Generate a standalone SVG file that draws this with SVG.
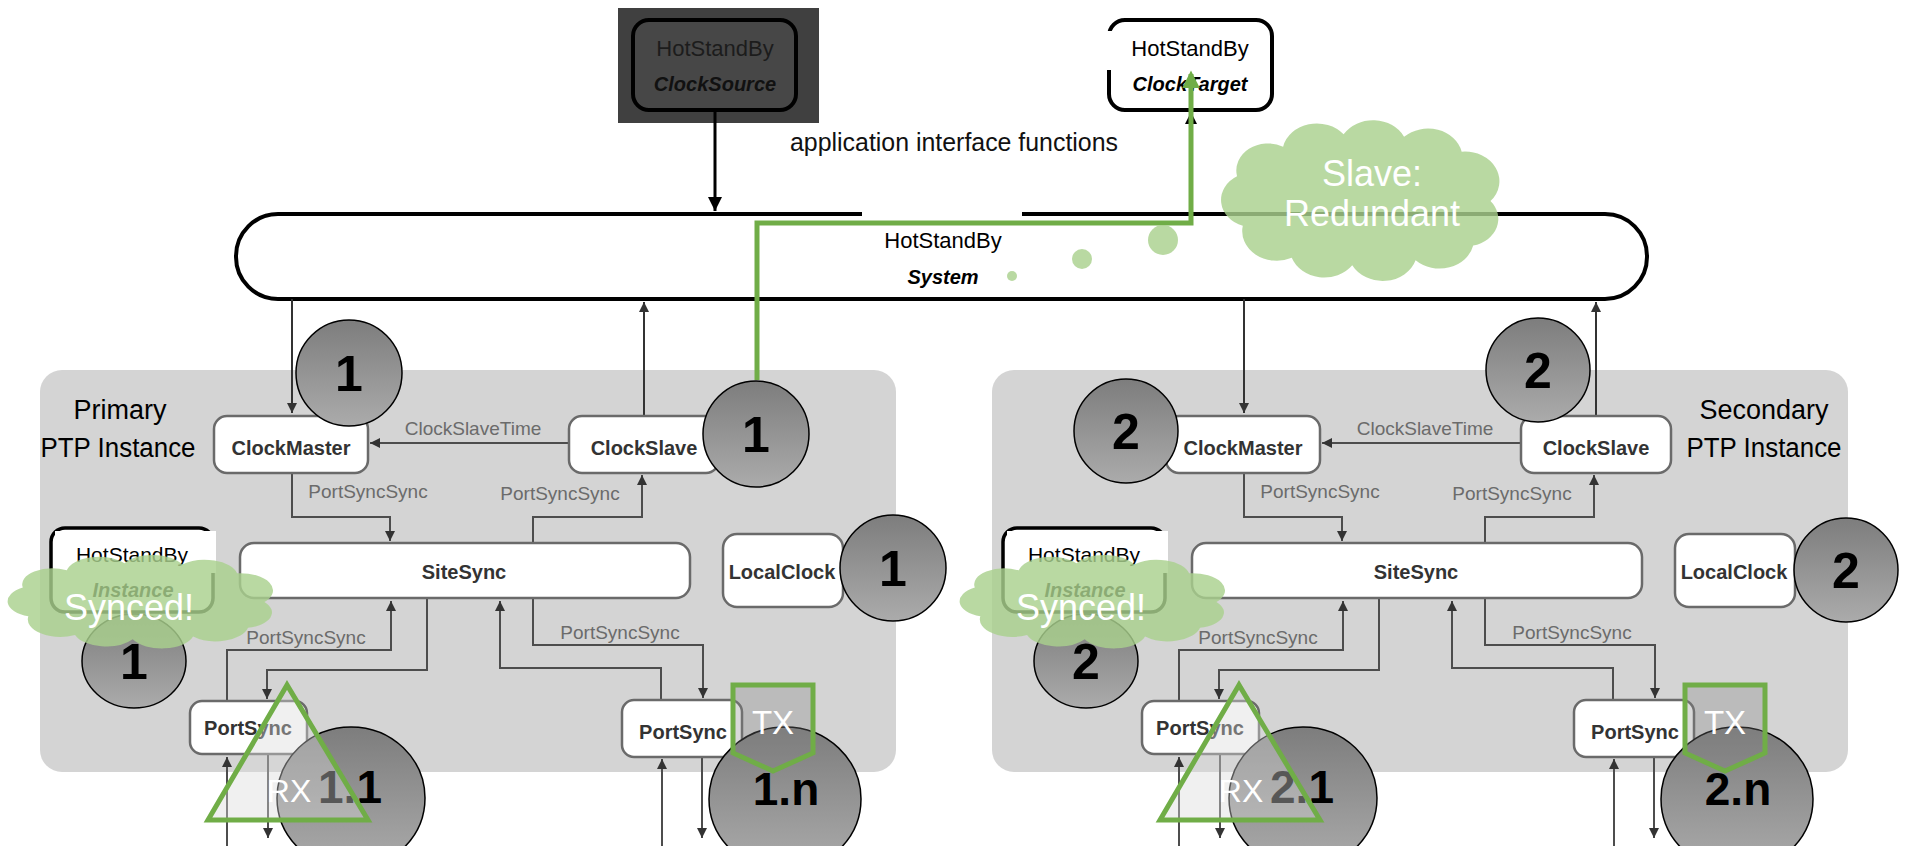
<svg xmlns="http://www.w3.org/2000/svg" width="1905" height="846" viewBox="0 0 1905 846">
<defs>
<style>
text{font-family:"Liberation Sans",Arial,sans-serif}
.panel{fill:#d4d4d4}
.box{fill:#fff;stroke:#6a6a6a;stroke-width:2.5}
.bl{font-size:20px;font-weight:bold;fill:#333;text-anchor:middle}
.lbl{font-size:19px;fill:#6b6b6b;text-anchor:middle}
.conn{fill:none;stroke:#4d4d4d;stroke-width:2;marker-end:url(#ah)}
.sys{fill:none;stroke:#333;stroke-width:2;marker-end:url(#ah)}
.circ{fill:url(#cg);stroke:#000;stroke-width:1.5}
.num{font-size:50px;font-weight:bold;fill:#000;text-anchor:middle}
.num2{font-size:46px;font-weight:bold;fill:#000;text-anchor:middle}
.hs{font-size:22px;fill:#000;text-anchor:middle}
.bi{font-size:20px;font-weight:bold;font-style:italic;fill:#000;text-anchor:middle}
.cloud{fill:#a9d18e;opacity:0.82}
.wt{fill:#fff;text-anchor:middle}
.grn{fill:none;stroke:#70ad47;stroke-width:5}
.tri{fill:#d9d9d9;fill-opacity:0.4;stroke:#70ad47;stroke-width:5}
.pent{fill:#808080;fill-opacity:0.3;stroke:#70ad47;stroke-width:5}
.ptp{font-size:27px;fill:#000;text-anchor:middle}
</style>
<linearGradient id="cg" x1="0" y1="0" x2="0" y2="1"><stop offset="0" stop-color="#7d7d7d"/><stop offset="1" stop-color="#ababab"/></linearGradient>
<marker id="ah" viewBox="0 0 10 10" refX="10" refY="5" markerWidth="10" markerHeight="10" markerUnits="userSpaceOnUse" orient="auto"><path d="M0,0L10,5L0,10z" fill="#333"/></marker>
<marker id="ahk" viewBox="0 0 10 10" refX="10" refY="5" markerWidth="14" markerHeight="14" markerUnits="userSpaceOnUse" orient="auto"><path d="M0,0L10,5L0,10z" fill="#000"/></marker>
<marker id="ahg" viewBox="0 0 10 10" refX="8" refY="5" markerWidth="18" markerHeight="18" markerUnits="userSpaceOnUse" orient="auto"><path d="M0,0L10,5L0,10z" fill="#70ad47"/></marker>
<path id="cloudp" d="M10,42 A11,11 0 0 1 8,22 A11,11 0 0 1 24,10 A12,12 0 0 1 45,5 A12,12 0 0 1 66,6 A12,12 0 0 1 86,12 A12,12 0 0 1 96,32 A11,11 0 0 1 90,50 A12,12 0 0 1 70,56 A12,12 0 0 1 48,58 A12,12 0 0 1 27,55 A12,12 0 0 1 10,42 Z"/>
</defs>
<rect width="1905" height="846" fill="#fff"/>

<!-- panels -->
<g id="primary-panel">
<rect class="panel" x="40" y="370" width="856" height="402" rx="22"/>
<text class="ptp" x="120" y="419">Primary</text>
<text class="ptp" x="118" y="457" textLength="155" lengthAdjust="spacingAndGlyphs">PTP Instance</text>
</g>
<g id="secondary-panel">
<rect class="panel" x="992" y="370" width="856" height="402" rx="22"/>
<text class="ptp" x="1764" y="419">Secondary</text>
<text class="ptp" x="1764" y="457" textLength="155" lengthAdjust="spacingAndGlyphs">PTP Instance</text>
</g>

<!-- top nodes -->
<g id="clock-source">
<rect x="618" y="8" width="201" height="115" fill="#404040"/>
<rect x="633" y="20" width="163" height="90" rx="16" fill="#474747" stroke="#000" stroke-width="4"/>
<text class="hs" x="715" y="56" style="fill:#1c1c1c">HotStandBy</text>
<text class="bi" x="715" y="91" style="fill:#111">ClockSource</text>
</g>
<g id="clock-target">
<rect x="1109" y="20" width="163" height="90" rx="16" fill="#fff" stroke="#000" stroke-width="4"/>
<rect x="1105" y="31" width="160" height="39" fill="#fff"/>
<text class="hs" x="1190" y="56">HotStandBy</text>
<text class="bi" x="1190" y="91">ClockTarget</text>
</g>
<text x="954" y="151" font-size="25" text-anchor="middle" textLength="328" lengthAdjust="spacingAndGlyphs" fill="#111">application interface functions</text>

<g id="system">
<rect x="236" y="214" width="1411" height="85" rx="42" fill="#fff" stroke="#000" stroke-width="4"/>
<rect x="862" y="209" width="160" height="9" fill="#fff"/>
<text class="hs" x="943" y="248">HotStandBy</text>
<text class="bi" x="943" y="284">System</text>
</g>

<!-- connectors -->
<g id="connectors">
<path d="M715,110 V211" fill="none" stroke="#000" stroke-width="3" marker-end="url(#ahk)"/>
<path d="M1191,112 L1185,124 L1197,124 Z" fill="#000"/>
<g id="conn-primary">
<path class="sys" d="M292,299 V413"/>
<path class="sys" d="M644,416 V302"/>
<path class="conn" d="M569,443 H370"/>
<path class="conn" d="M292,473 V517 H390 V541"/>
<path class="conn" d="M533,543 V517 H642 V475"/>
<path class="conn" d="M227,701 V650 H391 V601"/>
<path class="conn" d="M427,599 V670 H267 V699"/>
<path class="conn" d="M661,700 V668 H500 V601"/>
<path class="conn" d="M533,599 V645 H703 V698"/>
<path class="conn" d="M227,846 V757"/>
<path class="conn" d="M268,755 V838"/>
<path class="conn" d="M662,846 V759"/>
<path class="conn" d="M702,758 V838"/>
<text class="lbl" x="473" y="435">ClockSlaveTime</text>
<text class="lbl" x="368" y="498">PortSyncSync</text>
<text class="lbl" x="560" y="500">PortSyncSync</text>
<text class="lbl" x="306" y="644">PortSyncSync</text>
<text class="lbl" x="620" y="639">PortSyncSync</text>
</g>
<g id="conn-secondary" transform="translate(952,0)">
<path class="sys" d="M292,299 V413"/>
<path class="sys" d="M644,416 V302"/>
<path class="conn" d="M569,443 H370"/>
<path class="conn" d="M292,473 V517 H390 V541"/>
<path class="conn" d="M533,543 V517 H642 V475"/>
<path class="conn" d="M227,701 V650 H391 V601"/>
<path class="conn" d="M427,599 V670 H267 V699"/>
<path class="conn" d="M661,700 V668 H500 V601"/>
<path class="conn" d="M533,599 V645 H703 V698"/>
<path class="conn" d="M227,846 V757"/>
<path class="conn" d="M268,755 V838"/>
<path class="conn" d="M662,846 V759"/>
<path class="conn" d="M702,758 V838"/>
<text class="lbl" x="473" y="435">ClockSlaveTime</text>
<text class="lbl" x="368" y="498">PortSyncSync</text>
<text class="lbl" x="560" y="500">PortSyncSync</text>
<text class="lbl" x="306" y="644">PortSyncSync</text>
<text class="lbl" x="620" y="639">PortSyncSync</text>
</g>
</g>

<!-- primary nodes -->
<g id="p-clockmaster"><rect class="box" x="214" y="416" width="154" height="57" rx="13"/><text class="bl" x="291" y="455">ClockMaster</text></g>
<g id="p-clockslave"><rect class="box" x="569" y="416" width="150" height="57" rx="13"/><text class="bl" x="644" y="455">ClockSlave</text></g>
<g id="p-sitesync"><rect class="box" x="240" y="543" width="450" height="55" rx="14"/><text class="bl" x="464" y="579">SiteSync</text></g>
<g id="p-localclock"><rect class="box" x="723" y="534" width="120" height="73" rx="14"/><text class="bl" x="782" y="579">LocalClock</text></g>
<g id="p-portsync1"><rect class="box" x="190" y="701" width="117" height="53" rx="12"/><text class="bl" x="248" y="735">PortSync</text></g>
<g id="p-portsyncn"><rect class="box" x="622" y="700" width="120" height="57" rx="12"/><text class="bl" x="683" y="739">PortSync</text></g>
<g id="p-instance">
<rect x="51" y="528" width="162" height="84" rx="14" fill="#fff" stroke="#000" stroke-width="3.5"/>
<rect x="55" y="531" width="161" height="42" fill="#fff"/>
<text x="132" y="562" font-size="21" text-anchor="middle">HotStandBy</text>
<text class="bi" x="133" y="597">Instance</text>
</g>

<!-- secondary nodes -->
<g id="s-clockmaster" transform="translate(952,0)"><rect class="box" x="214" y="416" width="154" height="57" rx="13"/><text class="bl" x="291" y="455">ClockMaster</text></g>
<g id="s-clockslave" transform="translate(952,0)"><rect class="box" x="569" y="416" width="150" height="57" rx="13"/><text class="bl" x="644" y="455">ClockSlave</text></g>
<g id="s-sitesync" transform="translate(952,0)"><rect class="box" x="240" y="543" width="450" height="55" rx="14"/><text class="bl" x="464" y="579">SiteSync</text></g>
<g id="s-localclock" transform="translate(952,0)"><rect class="box" x="723" y="534" width="120" height="73" rx="14"/><text class="bl" x="782" y="579">LocalClock</text></g>
<g id="s-portsync1" transform="translate(952,0)"><rect class="box" x="190" y="701" width="117" height="53" rx="12"/><text class="bl" x="248" y="735">PortSync</text></g>
<g id="s-portsyncn" transform="translate(952,0)"><rect class="box" x="622" y="700" width="120" height="57" rx="12"/><text class="bl" x="683" y="739">PortSync</text></g>
<g id="s-instance" transform="translate(952,0)">
<rect x="51" y="528" width="162" height="84" rx="14" fill="#fff" stroke="#000" stroke-width="3.5"/>
<rect x="55" y="531" width="161" height="42" fill="#fff"/>
<text x="132" y="562" font-size="21" text-anchor="middle">HotStandBy</text>
<text class="bi" x="133" y="597">Instance</text>
</g>

<!-- number badges primary -->
<g id="badge-p-cm"><circle class="circ" cx="349" cy="373" r="53"/><text class="num" x="349" y="391">1</text></g>
<g id="badge-p-cs"><circle class="circ" cx="756" cy="434" r="53"/><text class="num" x="756" y="452">1</text></g>
<g id="badge-p-lc"><circle class="circ" cx="893" cy="568" r="53"/><text class="num" x="893" y="586">1</text></g>
<g id="badge-p-inst"><ellipse class="circ" cx="134" cy="661" rx="52" ry="47"/><text class="num" x="134" y="679">1</text></g>
<g id="badge-p-11"><ellipse class="circ" cx="351" cy="798" rx="74" ry="71"/><text class="num2" x="350" y="803">1.1</text></g>
<g id="badge-p-1n"><ellipse class="circ" cx="785" cy="799" rx="76" ry="72"/><text class="num2" x="786" y="805">1.n</text></g>

<!-- number badges secondary -->
<g id="badge-s-cm"><circle class="circ" cx="1126" cy="431" r="52"/><text class="num" x="1126" y="449">2</text></g>
<g id="badge-s-cs"><circle class="circ" cx="1538" cy="370" r="52"/><text class="num" x="1538" y="388">2</text></g>
<g id="badge-s-lc"><circle class="circ" cx="1846" cy="570" r="52"/><text class="num" x="1846" y="588">2</text></g>
<g id="badge-s-inst"><ellipse class="circ" cx="1086" cy="661" rx="52" ry="47"/><text class="num" x="1086" y="679">2</text></g>
<g id="badge-s-21"><ellipse class="circ" cx="1303" cy="798" rx="74" ry="71"/><text class="num2" x="1302" y="803">2.1</text></g>
<g id="badge-s-2n"><ellipse class="circ" cx="1737" cy="799" rx="76" ry="72"/><text class="num2" x="1738" y="805">2.n</text></g>

<!-- RX / TX markers -->
<g id="rx-p"><polygon class="tri" points="287,685 208,820 368,820"/><text class="wt" x="289" y="802" font-size="32">RX</text></g>
<g id="tx-p"><polygon class="pent" points="733,685 813,685 813,753 773,771 733,753"/><text class="wt" x="773" y="734" font-size="33">TX</text></g>
<g id="rx-s"><polygon class="tri" points="1239,685 1160,820 1320,820"/><text class="wt" x="1241" y="802" font-size="32">RX</text></g>
<g id="tx-s"><polygon class="pent" points="1685,685 1765,685 1765,753 1725,771 1685,753"/><text class="wt" x="1725" y="734" font-size="33">TX</text></g>

<!-- synced clouds -->
<g id="synced-p">
<use href="#cloudp" class="cloud" transform="translate(0.9,556) scale(2.746,1.437)"/>
<text class="wt" x="129" y="620" font-size="36">Synced!</text>
</g>
<g id="synced-s">
<use href="#cloudp" class="cloud" transform="translate(952.9,556) scale(2.746,1.437)"/>
<text class="wt" x="1081" y="620" font-size="36">Synced!</text>
</g>

<!-- green path to ClockTarget -->
<g id="green-link">
<path class="grn" d="M757,380 V223 H1191 V74" marker-end="url(#ahg)"/>
</g>

<!-- slave redundant thought cloud -->
<g id="slave-cloud">
<circle cx="1012" cy="276" r="5" class="cloud"/>
<circle cx="1082" cy="259" r="10" class="cloud"/>
<circle cx="1163" cy="240" r="15" class="cloud"/>
<use href="#cloudp" class="cloud" transform="translate(1214,122) scale(2.88,2.47)"/>
<text class="wt" x="1372" y="186" font-size="36">Slave:</text>
<text class="wt" x="1372" y="226" font-size="36">Redundant</text>
</g>
</svg>
